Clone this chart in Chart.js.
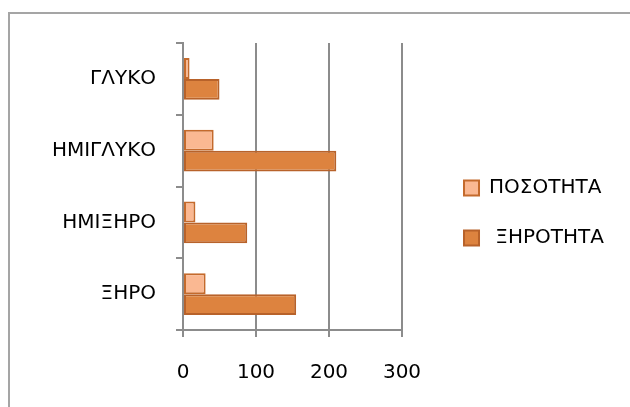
<!DOCTYPE html>
<html>
<head>
<meta charset="utf-8">
<script src="https://cdn.jsdelivr.net/npm/chart.js@4/dist/chart.umd.min.js"></script>
<style>
  html, body { margin: 0; padding: 0; background: #fff; overflow: hidden; }
  #wrap { position: relative; width: 630px; height: 407px; }
  #frame { position: absolute; left: 8px; top: 12px; width: 700px; height: 500px;
           border: 2px solid #a5a5a5; box-sizing: border-box; }
  #c { position: absolute; left: 0; top: 0; }
</style>
</head>
<body>
<div id="wrap">
  <div id="frame"></div>
  <canvas id="c" width="630" height="407"></canvas>
</div>
<script>
// categories, top to bottom
var kind = ['ΓΛΥΚΟ', 'ΗΜΙΓΛΥΚΟ', 'ΗΜΙΞΗΡΟ', 'ΞΗΡΟ'];
var posotita = [9, 42, 17, 31];
var xirotita = [50, 210, 88, 155];
var xTicks = [0, 100, 200, 300];

var FONT = "'DejaVu Sans', sans-serif";
var gridCol = '#8c8c8c';

var ctx = document.getElementById('c').getContext('2d');
var myBarChart = new Chart(ctx, {
    type: 'bar',
    data: {
        labels: kind,
        datasets: [{
            label: 'ΠΟΣΟΤΗΤΑ',
            backgroundColor: '#FAB892',
            borderColor: '#C46A2C',
            borderWidth: 2,
            borderSkipped: false,
            data: posotita
        }, {
            label: ' ΞΗΡΟΤΗΤΑ',
            backgroundColor: '#DD833F',
            borderColor: '#B8622A',
            borderWidth: 2,
            borderSkipped: false,
            data: xirotita
        }]
    },
    options: {
        indexAxis: 'y',
        responsive: false,
        animation: false,
        categoryPercentage: 0.585,
        barPercentage: 1,
        layout: { padding: { top: 43, bottom: 24, left: 0, right: 16 } },
        plugins: {
            tooltip: { enabled: false },
            legend: {
                position: 'right',
                maxWidth: 260,
                labels: {
                    color: '#000',
                    font: { family: FONT, size: 20 },
                    boxWidth: 15,
                    boxHeight: 15,
                    padding: 30
                }
            }
        },
        scales: {
            x: {
                min: 0,
                max: 300,
                afterBuildTicks: function (s) {
                    s.ticks = xTicks.map(function (v) { return { value: v }; });
                },
                afterFit: function (s) { s.height = 53; },
                grid: { color: gridCol, lineWidth: 2, tickLength: 7, tickColor: gridCol },
                border: { color: gridCol, width: 2 },
                ticks: { color: '#000', font: { family: FONT, size: 20 }, padding: 24, maxRotation: 0 }
            },
            y: {
                afterFit: function (s) { s.width = 183; },
                grid: { drawOnChartArea: false, tickLength: 7, tickColor: gridCol, lineWidth: 2 },
                border: { color: gridCol, width: 2 },
                ticks: { color: '#000', font: { family: FONT, size: 20 }, padding: 20 }
            },
            gap: {
                type: 'linear',
                position: 'right',
                display: true,
                grid: { display: false },
                border: { display: false },
                ticks: { display: false },
                afterFit: function (s) { s.width = 32; }
            }
        }
    }
});
</script>
</body>
</html>
